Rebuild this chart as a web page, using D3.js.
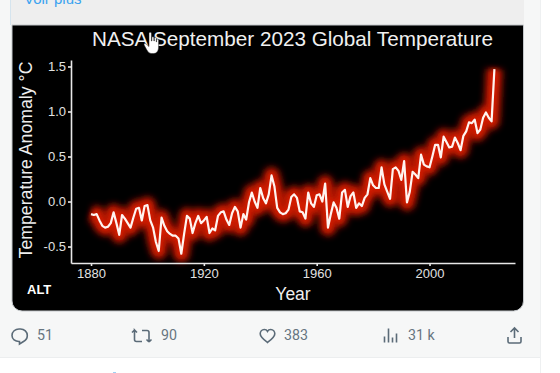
<!DOCTYPE html>
<html><head><meta charset="utf-8">
<script src="https://cdn.jsdelivr.net/npm/d3@7/dist/d3.min.js"></script>
<style>html,body{margin:0;padding:0;background:#fff;overflow:hidden}svg{display:block;font-family:"Liberation Sans",Arial,sans-serif}</style>
</head><body><svg id="c" width="560" height="373"></svg>
<script>
const startYear = 1880;
const anomalies = [
-.14,-.15,-.14,-.21,-.27,-.29,-.28,-.24,-.12,-.24,-.37,-.15,-.19,-.24,-.29,-.18,-.08,-.07,-.21,-.05,-.04,-.21,-.29,-.45,-.55,-.18,-.27,-.33,-.36,-.38,
-.38,-.41,-.58,-.36,-.16,-.19,-.35,-.24,-.16,-.24,-.21,-.17,-.35,-.30,-.32,-.16,-.12,-.11,-.20,-.26,-.13,-.06,-.11,-.29,-.14,-.20,-.01,.10,.00,-.07,
.15,.04,-.02,.08,.29,.17,-.07,-.12,-.14,-.13,-.09,.05,.08,.04,-.11,-.12,-.19,.10,-.02,-.06,.07,.08,.00,.20,-.29,-.14,-.01,-.07,-.19,.10,
.13,-.06,.06,.10,-.07,-.02,-.05,.04,.08,.26,.18,.15,.15,.38,.19,.11,.03,.36,.38,.34,.24,.45,-.01,.11,.33,.30,.26,.52,.41,.39,
.38,.50,.63,.63,.49,.72,.66,.60,.61,.71,.65,.57,.73,.78,.88,.87,.91,.76,.80,.93,.99,.93,.89,1.47];
const xTicks = [1880,1920,1960,2000];
const yTicks = [-0.5,0,0.5,1,1.5];
const titleText = "NASA September 2023 Global Temperature";
const xLabel = "Year", yLabel = "Temperature Anomaly °C";
const engagement = [["51",37],["90",161],["383",284],["31 k",408]];

const svg = d3.select("#c");
const rect=(x,y,w,h,f)=>svg.append("rect").attr("x",x).attr("y",y).attr("width",w).attr("height",h).attr("fill",f);
rect(0,0,540,357,"#f6f7f7");
rect(10,0,1,25,"#d5e4ee");
rect(11,0,513,25,"#eeeeee");
svg.append("text").attr("x",24).attr("y",4).attr("font-size",15).attr("fill","#3aa3f0").text("Voir plus");
svg.append("path").attr("d","M12 25H523.500V301a10 10 0 0 1 -10 10H22a10 10 0 0 1 -10 -10Z").attr("fill","#000").attr("stroke","#c4c8cb").attr("stroke-width",1);

const defs = svg.append("defs");
const mk=(id,sd)=>defs.append("filter").attr("id",id).attr("filterUnits","userSpaceOnUse").attr("x",50).attr("y",30).attr("width",480).attr("height",270).append("feGaussianBlur").attr("stdDeviation",sd);
mk("g1",3.4); mk("g2",2.6);

const x = d3.scaleLinear().domain([1872.9,2030.3]).range([71,515]);
const y = d3.scaleLinear().domain([-0.683,1.572]).range([263,60]);
const years = anomalies.map((_,i)=>startYear+i);
const line = d3.line().x((d,i)=>x(years[i])).y(d=>y(d));

const glow=(w,col,fid,op)=>svg.append("path").datum(anomalies).attr("d",line).attr("fill","none").attr("stroke",col).attr("stroke-width",w).attr("stroke-linejoin","round").attr("opacity",op).attr("filter",fid?`url(#${fid})`:null);
glow(17,"#a81200","g1",1);
glow(8,"#d81e00","g2",.9);
glow(2.2,"#fff4f0",null,1);

const styleAxis=g=>{g.selectAll("path,line").attr("stroke","#e8e8e8").attr("stroke-width",1.6);
 g.selectAll("text").attr("fill","#e2e2e2").attr("font-size",13).attr("font-family","'Liberation Sans',Arial,sans-serif");};
svg.append("g").attr("transform","translate(0,263)").call(d3.axisBottom(x).tickValues(xTicks).tickFormat(d3.format("d")).tickSize(3).tickSizeOuter(0).tickPadding(3)).call(styleAxis);
svg.append("g").attr("transform","translate(71,0)").call(d3.axisLeft(y).tickValues(yTicks).tickFormat(d3.format(".1f")).tickSize(3).tickSizeOuter(0).tickPadding(2)).call(styleAxis)
 .selectAll("text").text(d=>d<0?"-"+Math.abs(d).toFixed(1):d.toFixed(1));

svg.append("text").attr("x",292.500).attr("y",46).attr("text-anchor","middle").attr("font-size",20.7).attr("fill","#f0f0f0").text(titleText);
svg.append("text").attr("x",293).attr("y",300).attr("text-anchor","middle").attr("font-size",17.5).attr("fill","#eeeeee").text(xLabel);
svg.append("text").attr("transform","translate(32,160) rotate(-90)").attr("text-anchor","middle").attr("font-size",17.7).attr("fill","#eeeeee").text(yLabel);
svg.append("text").attr("x",27).attr("y",294).attr("font-size",13).attr("font-weight","bold").attr("fill","#fff").text("ALT");

svg.append("path").attr("d","M149 33.500a1 1 0 0 1 2.400 0V41l.5 0v-3.400a1 1 0 0 1 2 .2V41h.4v-2.800a1 1 0 0 1 2 .2V42h.3v-2a1 1 0 0 1 2 .2V47c0 3-1.500 6.500-5 6.500h-2c-2.500 0-3.500-1.500-5-4l-2.500-4.500c-.5-1 1-2 2-1l2.900 2.500Z").attr("fill","#fff").attr("stroke","#222").attr("stroke-width",.5);

const ic="#5b6b78";
const icons=[
"M12 335.500c0-4 3.300-6.500 7-6.500h1.500c3.800 0 6.800 3 6.800 6.500 0 2.700-1.500 4.800-3.800 6l-4 2.500v-2.500h-.5c-3.800 0-7-2.400-7-6Z",
"M137 332.500l-2.500-2.500v9.500a2 2 0 0 0 2 2H142M132 332.500l2.500-2.500M142 330.500h5a2 2 0 0 1 2 2V342M149 342l2.500-2.500M149 342l-2.500-2.500",
"M267.500 342.500c-3-2.300-7.300-5.300-7.300-8.700 0-2.300 1.800-4.300 4-4.300 1.300 0 2.700.6 3.300 1.800.6-1.200 2-1.800 3.300-1.800 2.300 0 4 2 4 4.300 0 3.400-4.300 6.400-7.300 8.700Z",
"M384.500 342.500v-6M388.500 342.500v-14M392.500 342.500v-5M396.500 342.500v-9",
"M514.500 328v10M510.500 332l4-4 4 4M508 337v4.500a1.500 1.500 0 0 0 1.500 1.500h10a1.500 1.500 0 0 0 1.500-1.500v-4.500"];
icons.forEach(d=>svg.append("path").attr("d",d).attr("fill","none").attr("stroke",ic).attr("stroke-width",1.6));
engagement.forEach(([t,px])=>svg.append("text").attr("x",px).attr("y",340).attr("font-size",14.2).attr("fill","#66757f").attr("font-family","Roboto,sans-serif").text(t));
rect(0,357,540,1,"#eceeef");
rect(540,0,1,373,"#eef0f1");
rect(113,372,3,1,"#9fd0f3");
</script></body></html>
